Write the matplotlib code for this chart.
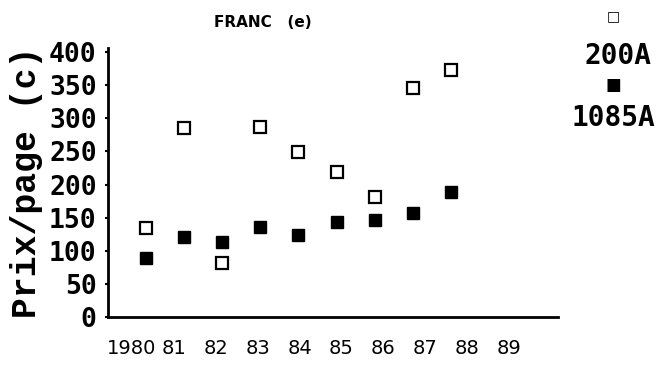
import matplotlib
matplotlib.use('Agg')
import matplotlib.pyplot as plt

# years (points placed at index positions)
years = ['1980', '81', '82', '83', '84', '85', '86', '87', '88']
tick_labels = ['1980', '81', '82', '83', '84', '85', '86', '87', '88', '89']
s200a = [134, 285, 82, 287, 249, 219, 181, 346, 373]
s1085a = [89, 121, 113, 136, 124, 143, 146, 157, 189]
yticks = [0, 50, 100, 150, 200, 250, 300, 350, 400]

fig = plt.figure(figsize=(6.57, 3.70), dpi=100)
ax = fig.add_axes([0.164, 0.143, 0.685, 0.727])

x = list(range(len(years)))
ax.plot(x, s200a, ls='none', marker='s', ms=8, mfc='white', mec='black', mew=1.6)
ax.plot(x, s1085a, ls='none', marker='s', ms=9, mfc='black', mec='black')

ax.set_xlim(-1.0, 10.8)
ax.set_ylim(0, 406)

for side in ['top', 'right']:
    ax.spines[side].set_visible(False)
ax.spines['left'].set_linewidth(2)
ax.spines['bottom'].set_linewidth(2)

ax.set_yticks(yticks)
ax.set_yticklabels([str(v) for v in yticks], family='DejaVu Sans Mono',
                   fontweight='bold', fontsize=19)
ax.tick_params(axis='y', length=2, width=1.5, pad=6)

ax.set_xticks([-0.37 + 1.1 * i for i in range(len(tick_labels))])
ax.set_xticklabels(tick_labels, family='DejaVu Sans', fontsize=14)
ax.tick_params(axis='x', length=0, pad=16)

ax.set_ylabel('Prix/page (c)', family='Liberation Mono', fontweight='bold',
              fontsize=25, labelpad=4)

fig.text(0.40, 0.94, 'FRANC   (e)', family='DejaVu Sans', fontweight='bold',
         fontsize=11, ha='center', va='center')

# legend on the right
fig.text(0.933, 0.955, '\u25a1', fontsize=10, ha='center', va='center')
fig.text(0.94, 0.85, '200A', family='DejaVu Sans Mono', fontweight='bold',
         fontsize=20, ha='center', va='center')
fig.text(0.933, 0.77, '\u25a0', fontsize=12, ha='center', va='center')
fig.text(0.933, 0.68, '1085A', family='DejaVu Sans Mono', fontweight='bold',
         fontsize=20, ha='center', va='center')

fig.savefig('out.png', dpi=100)
